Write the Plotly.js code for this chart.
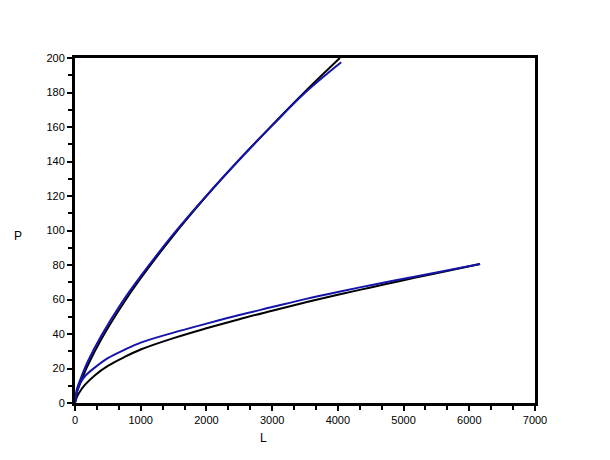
<!DOCTYPE html>
<html>
<head>
<meta charset="utf-8">
<script src="https://cdn.plot.ly/plotly-3.0.1.min.js"></script>
<style>html,body{margin:0;padding:0;background:#fff;}#chart{width:610px;height:460px;}</style>
</head>
<body>
<div id="chart"></div>
<script>
// Upper pair
const upperBlackL = [0, 25, 50, 100, 200, 400, 700, 1000, 1500, 2000, 2500, 3000, 3500, 4030];
const upperBlackP = [0, 6, 8.5, 13.5, 22.3, 37, 55.7, 72.3, 97.2, 119.9, 141.1, 161.1, 180.5, 200];
const upperBlueL = [0, 25, 50, 100, 200, 400, 700, 1000, 1500, 2000, 2500, 3000, 3500, 4050];
const upperBlueP = [0, 7.5, 10.5, 15.5, 24.5, 39, 57.5, 73.5, 98, 120.2, 141, 160.8, 179.8, 197.5];
// Lower pair
const lowerBlackL = [0, 30, 80, 150, 300, 500, 750, 1000, 1500, 2000, 2500, 3000, 3500, 4000, 4500, 5000, 5500, 6164];
const lowerBlackP = [0, 3.5, 7, 10.5, 16, 21.5, 26.6, 31, 37.6, 43.3, 48.6, 53.5, 58.3, 62.8, 67, 71.2, 75.2, 80.6];
const lowerBlueL = [0, 30, 80, 150, 300, 500, 750, 1000, 1500, 2000, 2500, 3000, 3500, 4000, 4500, 5000, 5500, 6164];
const lowerBlueP = [0, 6.5, 11.5, 15.5, 20.5, 26, 30.8, 35, 40.8, 46, 51, 55.6, 60.2, 64.4, 68.3, 72, 75.6, 80.6];

const xTicks = [0, 1000, 2000, 3000, 4000, 5000, 6000, 7000];
const yTicks = [0, 20, 40, 60, 80, 100, 120, 140, 160, 180, 200];

const blue = '#1414aa';
const black = '#000000';

function tr(x, y, c) {
  return {x: x, y: y, type: 'scatter', mode: 'lines', line: {color: c, width: 2, shape: 'spline', smoothing: 1}, hoverinfo: 'none'};
}

const data = [
  tr(upperBlackL, upperBlackP, black),
  tr(upperBlueL, upperBlueP, blue),
  tr(lowerBlackL, lowerBlackP, black),
  tr(lowerBlueL, lowerBlueP, blue)
];

const axFont = {family: 'Liberation Sans, Arial, sans-serif', size: 11, color: '#000'};
const titleFont = {family: 'Liberation Sans, Arial, sans-serif', size: 12, color: '#000'};

const layout = {
  width: 610, height: 460,
  margin: {l: 75, r: 75, t: 58, b: 57},
  paper_bgcolor: '#fff', plot_bgcolor: '#fff',
  showlegend: false,
  xaxis: {
    range: [0, 7000], tickvals: xTicks, ticktext: xTicks.map(String),
    showgrid: false, zeroline: false, showline: true, linewidth: 3, linecolor: '#000', mirror: true,
    ticks: 'outside', ticklen: 5, tickwidth: 2, tickcolor: '#000', tickfont: axFont,
    minor: {dtick: 1000/3, tick0: 0, ticks: 'outside', ticklen: 4, tickwidth: 2, tickcolor: '#000', showgrid: false}
  },
  yaxis: {
    range: [0, 200], tickvals: yTicks, ticktext: yTicks.map(String),
    showgrid: false, zeroline: false, showline: true, linewidth: 3, linecolor: '#000', mirror: true,
    ticks: 'outside', ticklen: 5, tickwidth: 2, tickcolor: '#000', tickfont: axFont,
    minor: {dtick: 10, tick0: 0, ticks: 'outside', ticklen: 4, tickwidth: 2, tickcolor: '#000', showgrid: false}
  },
  annotations: [
    {text: 'P', xref: 'paper', yref: 'paper', x: -0.124, y: 0.484, xanchor: 'center', yanchor: 'middle', showarrow: false, font: titleFont},
    {text: 'L', xref: 'paper', yref: 'paper', x: 0.41, y: -0.1, xanchor: 'center', yanchor: 'middle', showarrow: false, font: titleFont}
  ]
};

Plotly.newPlot('chart', data, layout, {displayModeBar: false, staticPlot: true});
</script>
</body>
</html>
